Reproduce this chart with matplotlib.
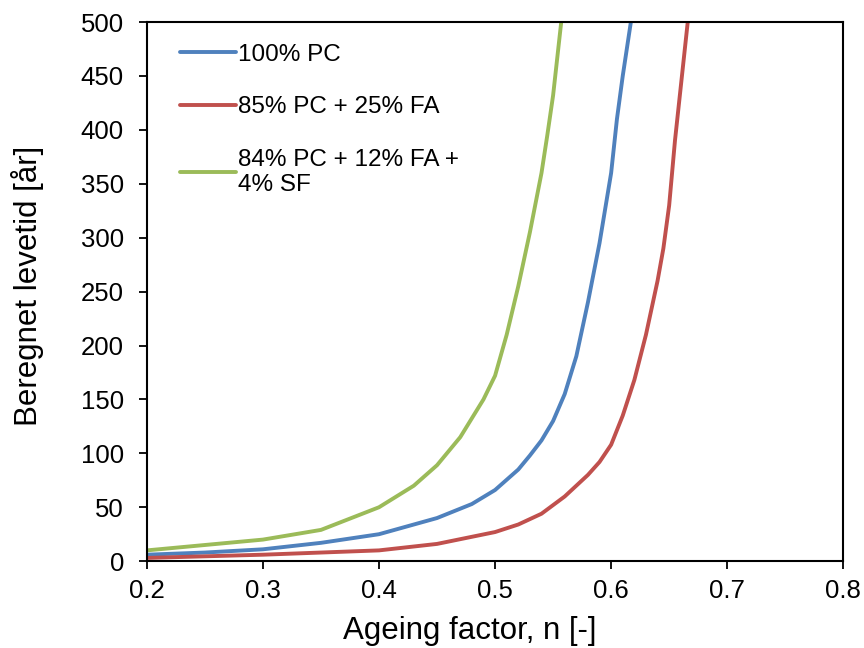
import matplotlib
matplotlib.use("Agg")
import matplotlib.pyplot as plt

plt.rcParams["font.family"] = ["Liberation Sans", "DejaVu Sans"]

# 100% PC
n_pc = [0.20, 0.25, 0.30, 0.35, 0.40, 0.45, 0.48, 0.50, 0.52, 0.53, 0.54, 0.55,
        0.56, 0.57, 0.58, 0.59, 0.60, 0.605, 0.61, 0.617]
t_pc = [6, 8, 11, 17, 25, 40, 53, 66, 85, 98, 112, 130,
        155, 190, 240, 295, 360, 410, 450, 500]

# 85% PC + 25% FA
n_fa = [0.20, 0.30, 0.40, 0.45, 0.50, 0.52, 0.54, 0.56, 0.58, 0.59, 0.60, 0.61,
        0.62, 0.63, 0.64, 0.645, 0.65, 0.655, 0.66, 0.666]
t_fa = [3, 6, 10, 16, 27, 34, 44, 60, 80, 92, 108, 135,
        168, 210, 260, 290, 330, 390, 440, 500]

# 84% PC + 12% FA + 4% SF
n_sf = [0.20, 0.25, 0.30, 0.35, 0.40, 0.43, 0.45, 0.47, 0.49, 0.50, 0.51, 0.52,
        0.53, 0.54, 0.545, 0.55, 0.557]
t_sf = [10, 15, 20, 29, 50, 70, 89, 115, 150, 172, 210, 255,
        305, 360, 395, 432, 500]

labels = ["100% PC", "85% PC + 25% FA", "84% PC + 12% FA +\n4% SF"]
colors = ["#4F81BD", "#C0504D", "#9BBB59"]

fig = plt.figure(figsize=(8.64, 6.48), dpi=100)
ax = fig.add_axes([0.170, 0.134, 0.806, 0.832])

for n, t, lab, c in zip([n_pc, n_fa, n_sf], [t_pc, t_fa, t_sf], labels, colors):
    ax.plot(n, t, color=c, lw=2.8, label=lab, solid_capstyle="round",
            solid_joinstyle="round")

ax.set_xlim(0.2, 0.8)
ax.set_ylim(0, 500)
ax.set_xticks([0.2, 0.3, 0.4, 0.5, 0.6, 0.7, 0.8])
ax.set_yticks(range(0, 501, 50))
ax.tick_params(direction="out", length=6, width=1.3, labelsize=18.5,
               colors="black")
ax.tick_params(axis="x", pad=7)
ax.tick_params(axis="y", pad=10.5)
for s in ax.spines.values():
    s.set_linewidth(1.5)
    s.set_color("black")

ax.set_xlabel("Ageing factor, n [-]", fontsize=22.5)
ax.set_ylabel("Beregnet levetid [år]", fontsize=22.5)
ax.xaxis.set_label_coords(0.464, -0.102)
ax.yaxis.set_label_coords(-0.148, 0.51)

leg = ax.legend(loc="upper left", bbox_to_anchor=(0.016, 1.0), frameon=False,
                fontsize=17.5, handlelength=2.3, handletextpad=0.1,
                labelspacing=1.25)

fig.savefig("out.png", dpi=100)
